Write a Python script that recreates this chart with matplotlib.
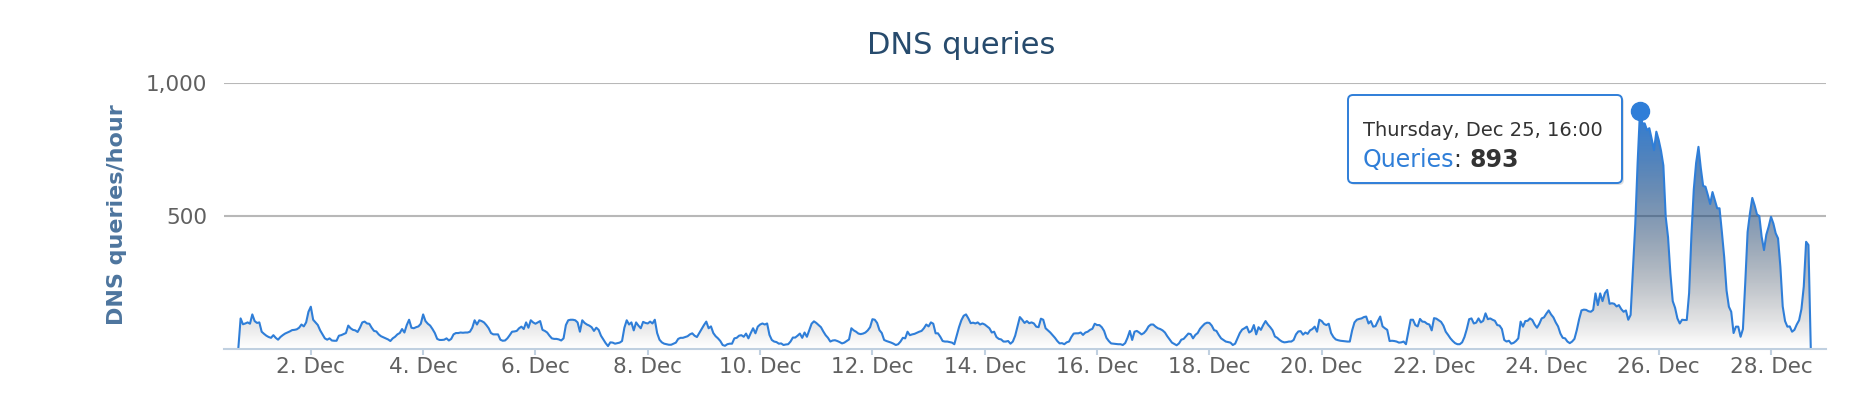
import numpy as np
import pandas as pd
import matplotlib
matplotlib.use("Agg")
import matplotlib.pyplot as plt
import matplotlib.dates as mdates
from matplotlib.patches import FancyBboxPatch, Polygon
from matplotlib.transforms import IdentityTransform

W, H = 1870, 408

# hourly DNS queries, first value at 30 Nov 17:00, one row = 24 hours
start = "2014-11-30 17:00"
queries = [
    0, 115, 93, 96, 100, 95, 130, 105, 98, 100, 65, 57, 50, 45, 42, 52, 42, 35, 45, 52, 58, 62, 66, 71,
    72, 74, 80, 92, 85, 100, 140, 159, 110, 100, 90, 70, 55, 40, 35, 40, 32, 31, 31, 50, 52, 56, 60, 88,
    78, 72, 70, 64, 80, 100, 103, 96, 95, 80, 68, 66, 55, 48, 44, 40, 36, 30, 40, 46, 55, 60, 75, 62,
    90, 110, 80, 78, 82, 85, 95, 130, 105, 95, 88, 75, 60, 38, 34, 34, 35, 40, 32, 38, 55, 60, 60, 62,
    61, 62, 62, 65, 80, 108, 92, 108, 105, 100, 90, 78, 60, 55, 55, 55, 35, 31, 32, 40, 52, 65, 66, 68,
    78, 84, 75, 100, 80, 108, 100, 95, 100, 105, 72, 68, 62, 50, 40, 38, 38, 36, 32, 40, 90, 108, 110, 110,
    108, 100, 65, 108, 98, 92, 88, 82, 68, 80, 72, 50, 36, 22, 11, 25, 24, 20, 22, 24, 30, 80, 108, 92,
    100, 70, 100, 88, 78, 102, 98, 96, 103, 96, 110, 60, 35, 25, 20, 18, 16, 16, 20, 24, 38, 42, 42, 45,
    48, 55, 59, 50, 45, 60, 75, 90, 103, 78, 85, 60, 48, 40, 30, 15, 12, 18, 20, 20, 40, 42, 50, 52,
    46, 58, 40, 60, 78, 59, 84, 92, 96, 92, 96, 53, 34, 28, 26, 20, 21, 15, 17, 18, 28, 43, 43, 50,
    58, 42, 62, 46, 70, 95, 104, 98, 90, 82, 66, 52, 42, 28, 32, 33, 30, 26, 21, 24, 30, 36, 78, 70,
    65, 58, 56, 58, 62, 70, 82, 112, 110, 98, 71, 60, 34, 30, 27, 24, 20, 15, 18, 28, 42, 40, 65, 52,
    55, 57, 61, 65, 68, 78, 92, 85, 100, 95, 59, 59, 46, 30, 28, 28, 26, 24, 18, 50, 82, 108, 125, 130,
    115, 97, 99, 96, 100, 92, 96, 92, 85, 78, 62, 65, 45, 38, 36, 28, 28, 30, 20, 28, 50, 85, 120, 110,
    98, 105, 97, 100, 96, 84, 82, 114, 110, 78, 70, 62, 52, 42, 30, 21, 22, 18, 25, 28, 45, 58, 59, 59,
    62, 53, 62, 65, 72, 76, 95, 90, 90, 82, 68, 42, 30, 21, 20, 19, 18, 18, 15, 22, 42, 68, 34, 65,
    68, 62, 55, 60, 70, 85, 92, 92, 84, 78, 75, 70, 62, 48, 36, 24, 19, 14, 21, 35, 38, 48, 58, 56,
    40, 53, 60, 76, 86, 95, 99, 98, 88, 71, 68, 53, 40, 34, 28, 26, 24, 15, 20, 40, 60, 73, 78, 84,
    62, 68, 90, 55, 82, 72, 90, 105, 92, 82, 70, 47, 42, 34, 28, 25, 26, 28, 28, 34, 55, 66, 67, 54,
    62, 57, 70, 75, 84, 65, 110, 105, 94, 90, 95, 60, 45, 36, 33, 31, 30, 29, 28, 28, 70, 100, 110, 113,
    115, 120, 122, 96, 105, 84, 86, 105, 122, 85, 78, 72, 30, 31, 30, 28, 24, 25, 28, 18, 65, 110, 110, 90,
    85, 113, 103, 102, 95, 92, 70, 116, 114, 108, 102, 88, 65, 53, 40, 30, 22, 18, 18, 25, 45, 75, 112, 115,
    96, 99, 115, 100, 106, 134, 112, 115, 110, 106, 90, 88, 75, 34, 28, 31, 20, 23, 30, 40, 103, 84, 105, 106,
    115, 109, 92, 80, 95, 115, 119, 133, 145, 130, 119, 100, 85, 58, 42, 40, 28, 22, 28, 38, 71, 112, 145, 148,
    147, 142, 140, 147, 209, 165, 209, 180, 210, 222, 170, 172, 170, 160, 165, 150, 140, 145, 110, 128, 300, 470, 700, 893,
    848, 848, 823, 830, 790, 748, 817, 786, 745, 690, 497, 420, 284, 180, 155, 115, 96, 110, 109, 109, 210, 430, 600, 700,
    760, 680, 613, 610, 579, 545, 590, 560, 529, 529, 440, 345, 220, 159, 140, 60, 84, 84, 46, 75, 250, 440, 510, 568,
    540, 506, 500, 422, 372, 430, 460, 497, 472, 435, 416, 310, 160, 105, 84, 85, 65, 72, 92, 108, 150, 235, 403, 391, 0,
]
tick_days = list(range(2, 29, 2))
y_ticks = [500, 1000]
y_tick_labels = ["1,000" if v == 1000 else str(v) for v in y_ticks]
series_name = "Queries"

blue = "#2f7ed8"
times = pd.date_range(start, periods=len(queries), freq="h")
x = mdates.date2num(times.to_pydatetime())
y = np.array(queries, dtype=float)

fig = plt.figure(figsize=(W / 100, H / 100), dpi=100)
ax = fig.add_axes([224 / W, 59 / H, (1826 - 224) / W, (349 - 83) / H])

# area fill: gradient from series colour at the top to rgba(2,0,0,0) at the bottom
ymax = y.max()
n = 256
t = np.linspace(0, 1, n)[:, None]
c0 = np.array([47, 126, 216]) / 255
c1 = np.array([2, 0, 0]) / 255
grad = np.zeros((n, 1, 4))
grad[:, 0, :3] = (1 - t) * c0 + t * c1
grad[:, 0, 3] = 1 - t[:, 0]
verts = [(x[0], 0)] + list(zip(x, y)) + [(x[-1], 0)]
poly = Polygon(verts, closed=True, facecolor="none", edgecolor="none", transform=ax.transData)
ax.add_patch(poly)
im = ax.imshow(grad, extent=[x[0], x[-1], 0, ymax], origin="upper", aspect="auto", zorder=1)
im.set_clip_path(poly)

ax.plot(x, y, color=blue, lw=1.5, zorder=3)
i_peak = int(np.argmax(y))
ax.plot(x[i_peak], y[i_peak], "o", ms=13, color=blue, zorder=4, clip_on=False)

ax.set_xlim(x[0] - 6.1 / 24, x[-1] + 6.5 / 24)
ax.set_ylim(0, 1000)

for s in ["top", "right", "left"]:
    ax.spines[s].set_visible(False)
ax.spines["bottom"].set_color("#C0D0E0")
ax.spines["bottom"].set_linewidth(1.5)
ax.spines["bottom"].set_zorder(5)

ax.set_yticks(y_ticks)
ax.set_yticklabels(y_tick_labels)
ax.tick_params(axis="y", length=0, pad=12, labelsize=15.5, labelcolor="#606060")
for v in y_ticks:
    ax.axhline(v, color="#B8B8B8", lw=1.5, zorder=0)

ticks = [mdates.date2num(pd.Timestamp(2014, 12, d).to_pydatetime()) for d in tick_days]
ax.set_xticks(ticks)
ax.set_xticklabels([f"{d}. Dec" for d in tick_days])
ax.tick_params(axis="x", length=4, width=1.5, color="#C0D0E0", pad=2,
               labelsize=15.5, labelcolor="#606060")

fig.text(961 / W, 1 - 45 / H, "DNS queries", ha="center", va="center",
         fontsize=22, color="#274b6d")
fig.text(117 / W, 1 - 215 / H, "DNS queries/hour", rotation=90, ha="center", va="center",
         fontsize=16, fontweight="bold", color="#4d759e")

# tooltip, in pixel coordinates
px = IdentityTransform()
bx0, by0, bx1, by1 = 1348, H - 183, 1622, H - 95
shadow = FancyBboxPatch((bx0 + 2, by0 - 2), bx1 - bx0, by1 - by0,
                        boxstyle="round,pad=0,rounding_size=5", transform=px,
                        facecolor="black", edgecolor="none", alpha=0.12)
box = FancyBboxPatch((bx0, by0), bx1 - bx0, by1 - by0,
                     boxstyle="round,pad=0,rounding_size=5", transform=px,
                     facecolor="white", edgecolor=blue, lw=1.4)
fig.add_artist(shadow)
fig.add_artist(box)

t_peak = times[i_peak]
header = t_peak.strftime("%A, %b ") + f"{t_peak.day}, " + t_peak.strftime("%H:%M")
fig.text(1363, H - 136, header, transform=px, fontsize=14, color="#333333", va="baseline")

fig.canvas.draw()
r = fig.canvas.get_renderer()
t1 = fig.text(1363, H - 167, series_name, transform=px, fontsize=17, color=blue, va="baseline")
x1 = t1.get_window_extent(r).x1
t2 = fig.text(x1, H - 167, ": ", transform=px, fontsize=17, color="#333333", va="baseline")
x2 = t2.get_window_extent(r).x1
fig.text(x2, H - 167, f"{int(y[i_peak])}", transform=px, fontsize=17, fontweight="bold",
         color="#333333", va="baseline")

fig.savefig("out.png", dpi=100)
